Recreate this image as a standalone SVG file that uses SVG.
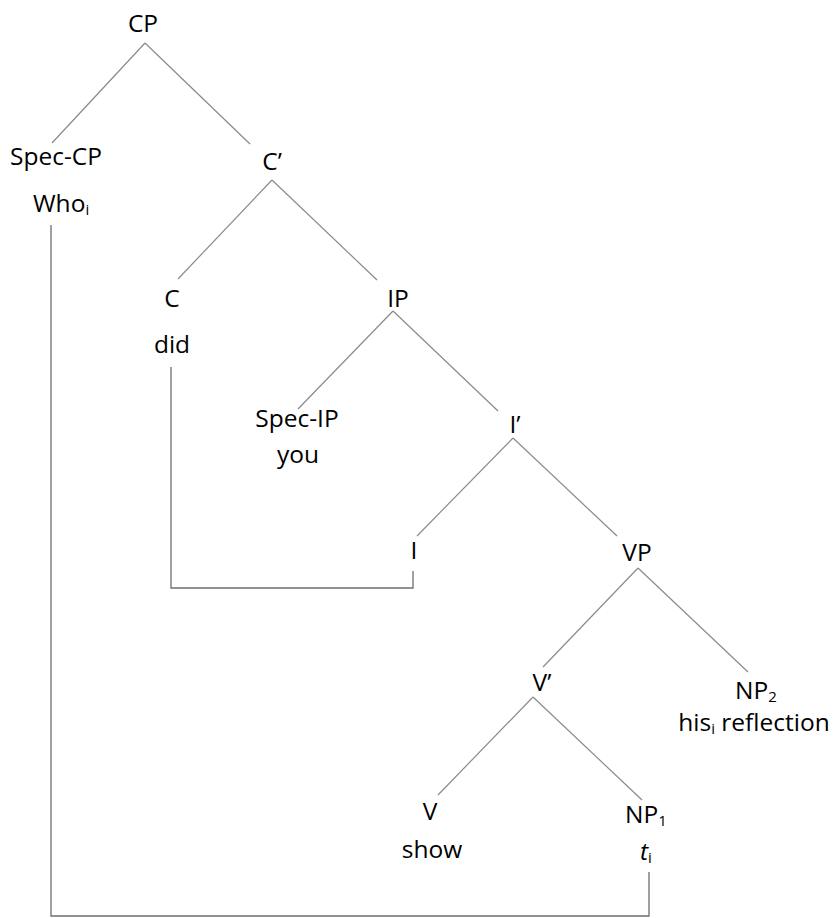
<svg xmlns="http://www.w3.org/2000/svg" width="837" height="918" viewBox="0 0 837 918">
<style>
  text { font-family: "Open Sans", "Noto Sans", sans-serif; font-size: 24.5px; fill: #000; }
  .m { text-anchor: middle; }
  .sub { font-size: 15px; }
  .edge { stroke: #8a8a8a; stroke-width: 1.2; fill: none; }
  .move { stroke: #6e6e6e; stroke-width: 1.3; fill: none; }
</style>
<rect width="837" height="918" fill="#fff"/>
<g id="connectors">
  <line class="edge" x1="145" y1="43" x2="52" y2="143"/>
  <line class="edge" x1="145" y1="43" x2="250" y2="144"/>
  <line class="edge" x1="272" y1="180" x2="178" y2="279"/>
  <line class="edge" x1="272" y1="180" x2="377" y2="280"/>
  <line class="edge" x1="393" y1="311" x2="298" y2="409"/>
  <line class="edge" x1="393" y1="311" x2="498" y2="411"/>
  <line class="edge" x1="513" y1="438" x2="417" y2="536"/>
  <line class="edge" x1="513" y1="438" x2="617" y2="536"/>
  <line class="edge" x1="638" y1="568" x2="543" y2="667"/>
  <line class="edge" x1="638" y1="568" x2="748" y2="672"/>
  <line class="edge" x1="533" y1="697" x2="438" y2="795"/>
  <line class="edge" x1="533" y1="697" x2="642" y2="800"/>
  <path class="move" d="M51 225 V916 H649 V872"/>
  <path class="move" d="M171 367 V588 H413 V571"/>
</g>
<g id="CP"><text class="m" x="143" y="32">CP</text></g>
<g id="SpecCP">
  <text class="m" x="56" y="165">Spec-CP</text>
  <text x="33" y="212">Who<tspan class="sub" dy="3">i</tspan></text>
</g>
<g id="Cbar"><text class="m" x="272" y="170">C’</text></g>
<g id="C">
  <text class="m" x="172" y="307">C</text>
  <text class="m" x="172" y="353">did</text>
</g>
<g id="IP"><text class="m" x="398" y="307">IP</text></g>
<g id="SpecIP">
  <text class="m" x="297" y="427">Spec-IP</text>
  <text class="m" x="298" y="463">you</text>
</g>
<g id="Ibar"><text class="m" x="515" y="433">I’</text></g>
<g id="I"><text class="m" x="414" y="559">I</text></g>
<g id="VP"><text class="m" x="637" y="561">VP</text></g>
<g id="Vbar"><text class="m" x="542" y="691">V’</text></g>
<g id="NP2">
  <text class="m" x="756" y="699">NP<tspan class="sub" dy="3">2</tspan></text>
  <text class="m" x="754" y="731">his<tspan class="sub" dy="3">i</tspan><tspan dy="-3"> reflection</tspan></text>
</g>
<g id="V">
  <text class="m" x="430" y="820">V</text>
  <text class="m" x="432" y="858">show</text>
</g>
<g id="NP1">
  <text class="m" x="646" y="823">NP<tspan class="sub" dy="3">1</tspan></text>
  <text x="640" y="860"><tspan font-style="italic">t</tspan><tspan class="sub" dy="3">i</tspan></text>
</g>
</svg>
